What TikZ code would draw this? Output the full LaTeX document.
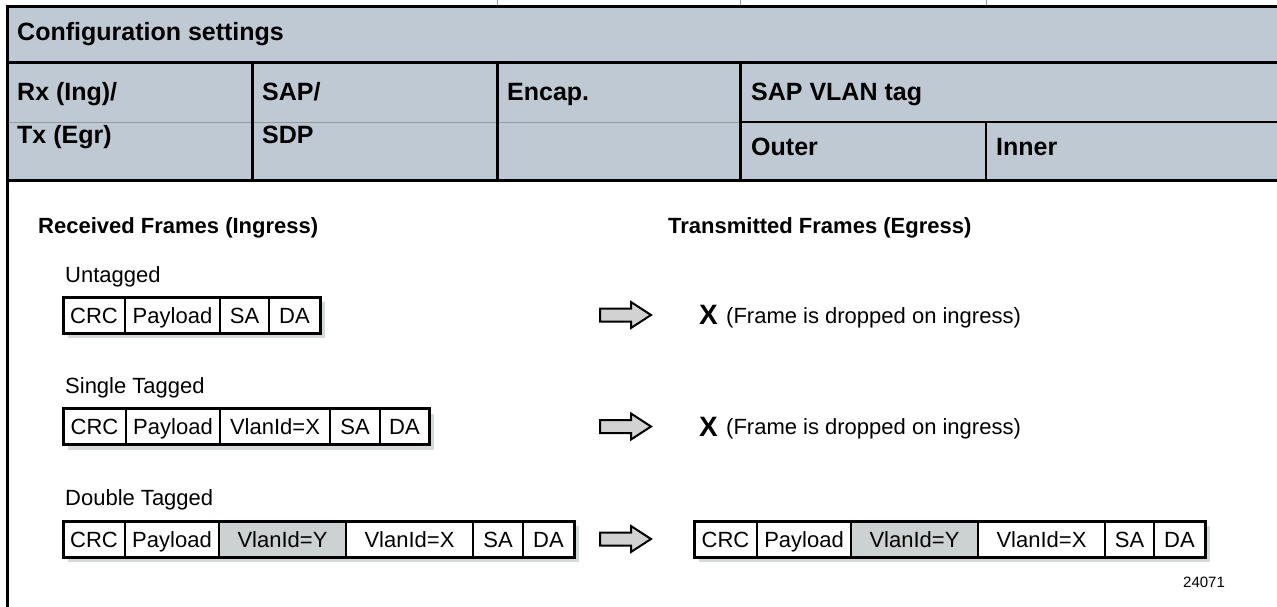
\documentclass[tikz,border=0pt]{standalone}
\usepackage{fontspec}
\setmainfont{Liberation Sans}
\usetikzlibrary{calc}
\definecolor{hdrfill}{RGB}{191,201,211}
\definecolor{tagfill}{RGB}{204,209,209}
\definecolor{shadowc}{RGB}{214,217,217}
\definecolor{arrowfill}{RGB}{210,210,210}
\definecolor{faint}{RGB}{150,155,160}
\newcommand\hdf{\fontsize{25}{30}\selectfont\bfseries}
\newcommand\bdf{\fontsize{22}{26}\selectfont}
\pgfdeclarelayer{bg}
\pgfsetlayers{bg,main}
\begin{document}
\begin{tikzpicture}[x=1pt,y=-1pt,
  lbl/.style={anchor=base west, inner sep=0pt},
  hd/.style={lbl, font=\hdf},
  bd/.style={lbl, font=\bdf},
  bdb/.style={lbl, font=\bdf\bfseries},
  cell/.style={draw=black, line width=2pt, minimum height=36pt, inner sep=0pt, outer sep=0pt,
    text height=20pt, text depth=4pt, anchor=west, font=\bdf, fill=white},
  tagcell/.style={cell, fill=tagfill},
  frameout/.style={draw=black, line width=3pt},
  shadowbox/.style={fill=shadowc},
  bigarrow/.style={draw=black, line width=2pt, fill=arrowfill, line join=miter},
  rule/.style={draw=black, line width=3pt},
  subrule/.style={draw=black, line width=2pt},
  faintrule/.style={draw=faint, line width=0.8pt}]
\useasboundingbox (0,0) rectangle (1277,607);

% ---------- header table ----------
\fill[hdrfill] (7,7) rectangle (1277,180);
\draw[faintrule] (7,122) -- (740,122);
\draw[faintrule] (497,0) -- (497,7) (740,0) -- (740,7) (986,0) -- (986,7);
\draw[rule] (5.5,7) -- (1277,7);
\draw[rule] (7,5.5) -- (7,607);
\draw[rule] (7,63) -- (1277,63);
\draw[rule] (7,180) -- (1277,180);
\draw[rule] (252,63) -- (252,180) (497,63) -- (497,180) (740,63) -- (740,180);
\draw[subrule] (740,122) -- (1277,122);
\draw[subrule] (986,122) -- (986,180);

\node[hd] (cfg) at (17,41) {Configuration settings};
\node[hd] (rx) at (17,101) {Rx (Ing)/};
\node[hd] (tx) at (17,144) {Tx (Egr)};
\node[hd] (sap) at (262,101) {SAP/};
\node[hd] (sdp) at (262,144) {SDP};
\node[hd] (enc) at (507,101) {Encap.};
\node[hd] (vlan) at (751,101) {SAP VLAN tag};
\node[hd] (outer) at (751,156) {Outer};
\node[hd] (inner) at (996,156) {Inner};

% ---------- body ----------
\node[bdb] (rcv) at (38,233) {Received Frames (Ingress)};
\node[bdb] (trm) at (668,233) {Transmitted Frames (Egress)};

\node[bd] (untag) at (65,282) {Untagged};
\node[bd] (single) at (65,393.5) {Single Tagged};
\node[bd] (double) at (65,505) {Double Tagged};

% frame 1
\node[cell, minimum width=62pt] (f1a) at (63,315) {CRC};
\node[cell, minimum width=95pt] (f1b) at (f1a.east) {Payload};
\node[cell, minimum width=49pt] (f1c) at (f1b.east) {SA};
\node[cell, minimum width=51pt] (f1d) at (f1c.east) {DA};
\draw[frameout] (f1a.north west) rectangle (f1d.south east);

% frame 2
\node[cell, minimum width=63pt] (f2a) at (63,426.5) {CRC};
\node[cell, minimum width=94pt] (f2b) at (f2a.east) {Payload};
\node[cell, minimum width=110pt] (f2c) at (f2b.east) {VlanId=X};
\node[cell, minimum width=50pt] (f2d) at (f2c.east) {SA};
\node[cell, minimum width=49pt] (f2e) at (f2d.east) {DA};
\draw[frameout] (f2a.north west) rectangle (f2e.south east);

% frame 3
\node[cell, minimum width=62pt] (f3a) at (63,539) {CRC};
\node[cell, minimum width=94pt] (f3b) at (f3a.east) {Payload};
\node[tagcell, minimum width=127pt] (f3c) at (f3b.east) {VlanId=Y};
\node[cell, minimum width=127pt] (f3d) at (f3c.east) {VlanId=X};
\node[cell, minimum width=50pt] (f3e) at (f3d.east) {SA};
\node[cell, minimum width=51pt] (f3f) at (f3e.east) {DA};
\draw[frameout] (f3a.north west) rectangle (f3f.south east);

% frame 4
\node[cell, minimum width=63pt] (f4a) at (694,539) {CRC};
\node[cell, minimum width=94pt] (f4b) at (f4a.east) {Payload};
\node[tagcell, minimum width=127pt] (f4c) at (f4b.east) {VlanId=Y};
\node[cell, minimum width=127pt] (f4d) at (f4c.east) {VlanId=X};
\node[cell, minimum width=49pt] (f4e) at (f4d.east) {SA};
\node[cell, minimum width=51pt] (f4f) at (f4e.east) {DA};
\draw[frameout] (f4a.north west) rectangle (f4f.south east);

\begin{pgfonlayer}{bg}
\foreach \p/\q in {f1a/f1d, f2a/f2e, f3a/f3f, f4a/f4f}
  \fill[shadowbox] ($(\p.north west)+(5,5)$) rectangle ($(\q.south east)+(5,5)$);
\end{pgfonlayer}

% arrows
\foreach \n/\c in {ar1/315, ar2/426.5, ar3/539}{
  \coordinate (\n) at (600,\c);
  \draw[bigarrow] (\n) ++(0,-6.5) -- ++(31,0) -- ++(0,-6.5) -- ++(20,13)
     -- ++(-20,13) -- ++(0,-6.5) -- ++(-31,0) -- cycle;
}

% results
\node[lbl, font=\fontsize{28}{30}\selectfont\bfseries] (x1) at (699,324.5) {X};
\node[bd] (d1) at (726,323) {(Frame is dropped on ingress)};
\node[lbl, font=\fontsize{28}{30}\selectfont\bfseries] (x2) at (699,436) {X};
\node[bd] (d2) at (726,434.5) {(Frame is dropped on ingress)};

\node[lbl, font=\fontsize{15}{18}\selectfont] (fig) at (1183,587) {24071};
\end{tikzpicture}
\end{document}
